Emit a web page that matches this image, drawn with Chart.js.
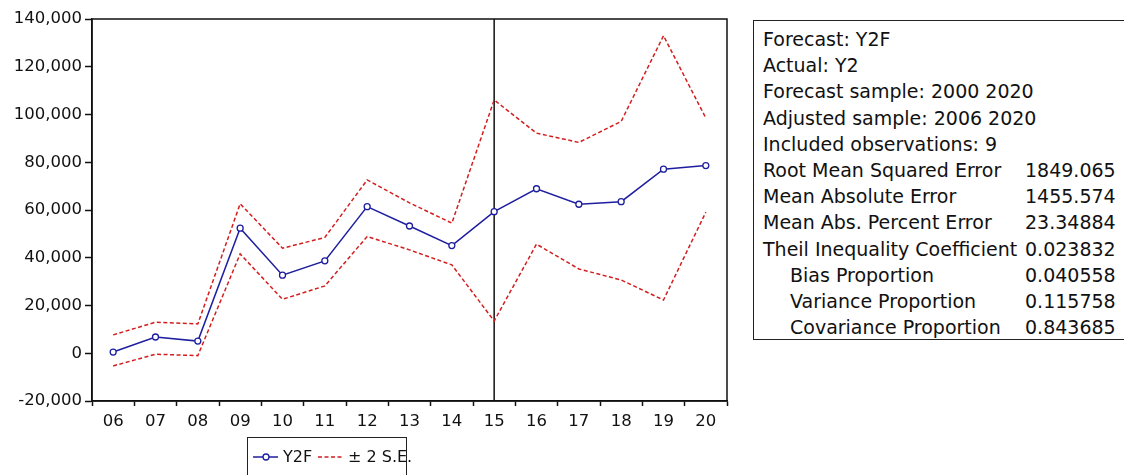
<!DOCTYPE html>
<html>
<head>
<meta charset="utf-8">
<script src="https://cdn.jsdelivr.net/npm/chart.js@4.4.0/dist/chart.umd.min.js"></script>
<style>
  body { margin: 0; width: 1124px; height: 475px; overflow: hidden; background: #fff; position: relative;
         font-family: "DejaVu Sans", sans-serif; color: #111; }
  #wrap { position: absolute; left: 0; top: 0; width: 745px; height: 475px; }
  #stats { position: absolute; left: 753px; top: 20px; width: 420px; height: 320px; box-sizing: border-box;
           border: 1.5px solid #222; padding: 5px 0 0 9px; font-size: 19px; line-height: 26.2px; }
  .row { position: relative; white-space: nowrap; height: 26.2px; }
  .row.ind { padding-left: 27px; }
  .row .v { position: absolute; left: 262px; top: 0; }
  #legend { position: absolute; left: 247px; top: 437px; width: 160px; height: 50px; box-sizing: border-box;
            border: 1.5px solid #222; font-size: 16px; }
  #legend span { position: absolute; top: 9px; white-space: nowrap; }
  #legend svg { position: absolute; left: 0; top: 0; }
</style>
</head>
<body>
<div id="wrap"><canvas id="chart"></canvas></div>

<div id="stats"></div>

<div id="legend">
  <svg width="160" height="40">
    <line x1="5" y1="19" x2="30" y2="19" stroke="rgb(30,30,160)" stroke-width="1.5"/>
    <circle cx="18" cy="19" r="3" fill="#fff" stroke="rgb(30,30,160)" stroke-width="1.3"/>
    <line x1="70" y1="19" x2="95" y2="19" stroke="rgb(210,30,30)" stroke-width="1.5" stroke-dasharray="4,2.5"/>
  </svg>
  <span style="left:35px">Y2F</span>
  <span style="left:100px">± 2 S.E.</span>
</div>

<script>
// Data
const years = ['06', '07', '08', '09', '10', '11', '12', '13', '14', '15', '16', '17', '18', '19', '20'];
const forecast = [500, 6800, 5100, 52400, 32700, 38700, 61400, 53300, 45100, 59300, 68900, 62400, 63500, 77100, 78600];
const upperBand = [7700, 13000, 12300, 62600, 44000, 48500, 72600, 63000, 54500, 106100, 92200, 88300, 97100, 133000, 98500];
const lowerBand = [-5300, -400, -1000, 41600, 22600, 28200, 48900, 43300, 37000, 13500, 45700, 35300, 30700, 22300, 59100];
const yTicks = [-20000, 0, 20000, 40000, 60000, 80000, 100000, 120000, 140000];
const splitYear = '15';

const statLabels = ['Forecast: Y2F', 'Actual: Y2', 'Forecast sample: 2000 2020', 'Adjusted sample: 2006 2020',
  'Included observations: 9', 'Root Mean Squared Error', 'Mean Absolute Error', 'Mean Abs. Percent Error',
  'Theil Inequality Coefficient', 'Bias Proportion', 'Variance Proportion', 'Covariance Proportion'];
const statValues = ['', '', '', '', '', '1849.065', '1455.574', '23.34884', '0.023832', '0.040558', '0.115758', '0.843685'];

// Stats box
const stats = document.getElementById('stats');
statLabels.forEach((label, i) => {
    const row = document.createElement('div');
    row.className = 'row' + (i >= 9 ? ' ind' : '');
    row.textContent = label;
    if (statValues[i]) {
        const v = document.createElement('span');
        v.className = 'v';
        v.textContent = statValues[i];
        row.appendChild(v);
    }
    stats.appendChild(row);
});

const BLUE = 'rgb(30,30,160)';
const RED = 'rgb(210,30,30)';
const INK = '#111';
const tickFont = { family: 'DejaVu Sans', size: 16.5 };

// Frame round the plot and vertical line at the split year
const framePlugin = {
    id: 'frame',
    beforeDatasetsDraw(chart) {
        const { ctx, chartArea: a, scales: { x } } = chart;
        const px = x.getPixelForValue(years.indexOf(splitYear));
        ctx.save();
        ctx.strokeStyle = INK;
        ctx.lineWidth = 1.5;
        ctx.beginPath();
        ctx.moveTo(px, a.top);
        ctx.lineTo(px, a.bottom);
        ctx.stroke();
        ctx.restore();
    },
    afterDatasetsDraw(chart) {
        const { ctx, chartArea: a } = chart;
        ctx.save();
        ctx.strokeStyle = INK;
        ctx.lineWidth = 1.5;
        ctx.strokeRect(a.left, a.top, a.right - a.left, a.bottom - a.top);
        ctx.restore();
    }
};

const bandStyle = {
    borderColor: RED,
    borderWidth: 1.5,
    borderDash: [4, 2.5],
    pointRadius: 0,
    fill: false,
    tension: 0
};

new Chart(document.getElementById('chart'), {
    type: 'line',
    data: {
        labels: years,
        datasets: [{
            label: 'Y2F',
            data: forecast,
            borderColor: BLUE,
            borderWidth: 1.5,
            pointRadius: 3,
            pointBorderWidth: 1.3,
            pointBackgroundColor: '#fff',
            pointBorderColor: BLUE,
            tension: 0,
            order: 0
        }, {
            label: '+2 S.E.',
            data: upperBand,
            ...bandStyle,
            order: 1
        }, {
            label: '-2 S.E.',
            data: lowerBand,
            ...bandStyle,
            order: 1
        }]
    },
    options: {
        responsive: true,
        maintainAspectRatio: false,
        animation: false,
        layout: { padding: { top: 19, right: 18, left: 0, bottom: 0 } },
        plugins: {
            legend: { display: false },
            tooltip: { enabled: false }
        },
        scales: {
            x: {
                offset: true,
                afterFit: s => { s.height = 74; },
                grid: {
                    offset: true,
                    drawOnChartArea: false,
                    tickLength: 5,
                    tickColor: INK,
                    tickWidth: 1.5
                },
                border: { color: INK, width: 1.5 },
                ticks: {
                    color: INK,
                    font: tickFont,
                    padding: 6,
                    maxRotation: 0,
                    autoSkip: false
                }
            },
            y: {
                min: yTicks[0],
                max: yTicks[yTicks.length - 1],
                afterFit: s => { s.width = 92; },
                afterBuildTicks: s => { s.ticks = yTicks.map(v => ({ value: v })); },
                grid: {
                    drawOnChartArea: false,
                    tickLength: 7,
                    tickColor: INK,
                    tickWidth: 1.5
                },
                border: { color: INK, width: 1.5 },
                ticks: {
                    color: INK,
                    font: tickFont,
                    padding: 3,
                    callback: v => v.toLocaleString('en-US')
                }
            }
        }
    },
    plugins: [framePlugin]
});
</script>
</body>
</html>
